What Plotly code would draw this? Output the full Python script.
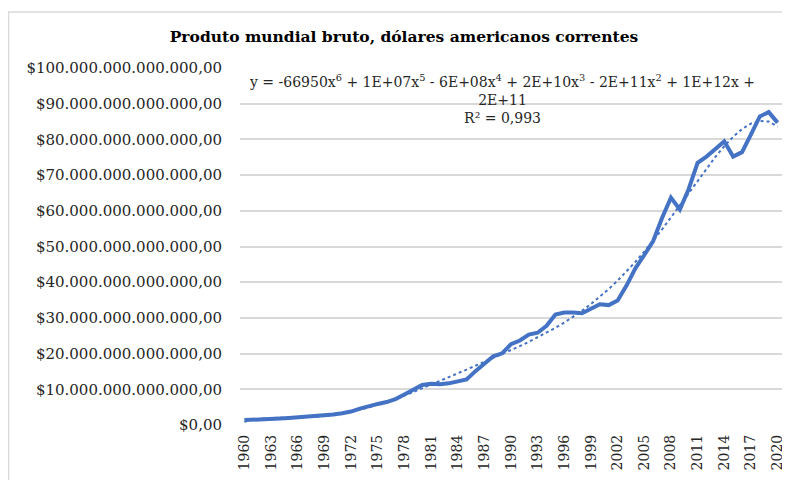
import numpy as np
import plotly.graph_objects as go

years = list(range(1960, 2021))
gdp_trillions = [1.37, 1.42, 1.53, 1.64, 1.80, 1.96, 2.13, 2.26, 2.44, 2.69,
                 2.96, 3.27, 3.77, 4.59, 5.31, 5.90, 6.42, 7.26, 8.54, 9.93,
                 11.23, 11.58, 11.40, 11.67, 12.16, 12.78, 15.09, 17.29, 19.26, 20.09,
                 22.63, 23.66, 25.32, 25.85, 27.79, 30.93, 31.50, 31.49, 31.29, 32.56,
                 33.82, 33.59, 34.87, 39.06, 43.88, 47.61, 51.54, 58.00, 63.69, 60.35,
                 66.12, 73.43, 75.18, 77.31, 79.45, 75.18, 76.43, 81.32, 86.43, 87.65, 84.71]
gdp = [v * 1e12 for v in gdp_trillions]

ytick_vals = [i * 10e12 for i in range(11)]
ytick_text = ["$0,00"] + ["$%d.000.000.000.000,00" % (i * 10) for i in range(1, 11)]
xtick_vals = list(range(1960, 2021, 3))

# Polynomial (6th order) trendline fitted to the data, as in the spreadsheet
xi = np.arange(1, len(years) + 1)
coef = np.polyfit(xi, np.array(gdp_trillions), 6)
trend = np.polyval(coef, xi) * 1e12

blue = "#4472C4"
font_family = "DejaVu Serif"

fig = go.Figure()
fig.add_trace(go.Scatter(x=years, y=gdp, mode="lines",
                         line=dict(color=blue, width=4), showlegend=False))
fig.add_trace(go.Scatter(x=years, y=trend, mode="lines",
                         line=dict(color=blue, width=2, dash="dot"), showlegend=False))

# page has an 8px body margin: figure sits at (8, 8)
OFF = 8
W, H = 790 - OFF, 480 - OFF
PL, PR, PT, PB = 240, 782, 68, 425          # plot area in page pixels
L, R, T, B = PL - OFF, (790 - PR), PT - OFF, (480 - PB)
pw, ph = W - L - R, H - T - B

def px(x):
    return (x - OFF - L) / pw

def py(y):
    return (H - B - (y - OFF)) / ph

fig.update_layout(
    width=W, height=H,
    margin=dict(l=L, r=R, t=T, b=B, autoexpand=False),
    paper_bgcolor="white", plot_bgcolor="white",
    font=dict(family=font_family, color="#262626", size=13),
    title=dict(text="<b>Produto mundial bruto, dólares americanos correntes</b>",
               x=px(404), xref="paper", y=1 - (37 - OFF) / H, yanchor="middle",
               xanchor="center", font=dict(size=15.5, color="#000000")),
    xaxis=dict(range=[1959.5, 2020.5], tickvals=xtick_vals,
               ticktext=[str(v) for v in xtick_vals], tickangle=-90,
               showgrid=False, zeroline=False, showline=False, automargin=False,
               ticks="", ticklabelstandoff=6, tickfont=dict(size=14)),
    yaxis=dict(range=[0, 100e12], tickvals=ytick_vals, ticktext=ytick_text,
               showgrid=True, gridcolor="#D9D9D9", gridwidth=1.5, automargin=False,
               zeroline=False, showline=False, ticks="", ticklabelstandoff=17,
               tickfont=dict(size=15)),
    shapes=[dict(type="rect", xref="paper", yref="paper",
                 x0=px(8.5), x1=px(820), y0=py(520), y1=py(12),
                 line=dict(color="#D9D9D9", width=1.5), layer="below")],
    annotations=[dict(
        text="y = -66950x<sup>6</sup> + 1E+07x<sup>5</sup> - 6E+08x<sup>4</sup> + 2E+10x<sup>3</sup> - 2E+11x<sup>2</sup> + 1E+12x +<br>2E+11<br>R² = 0,993",
        xref="paper", yref="paper", x=px(502), y=py(70), xanchor="center", yanchor="top",
        showarrow=False, align="center", font=dict(size=14, color="#262626"))],
)

fig.write_html("out.html")
